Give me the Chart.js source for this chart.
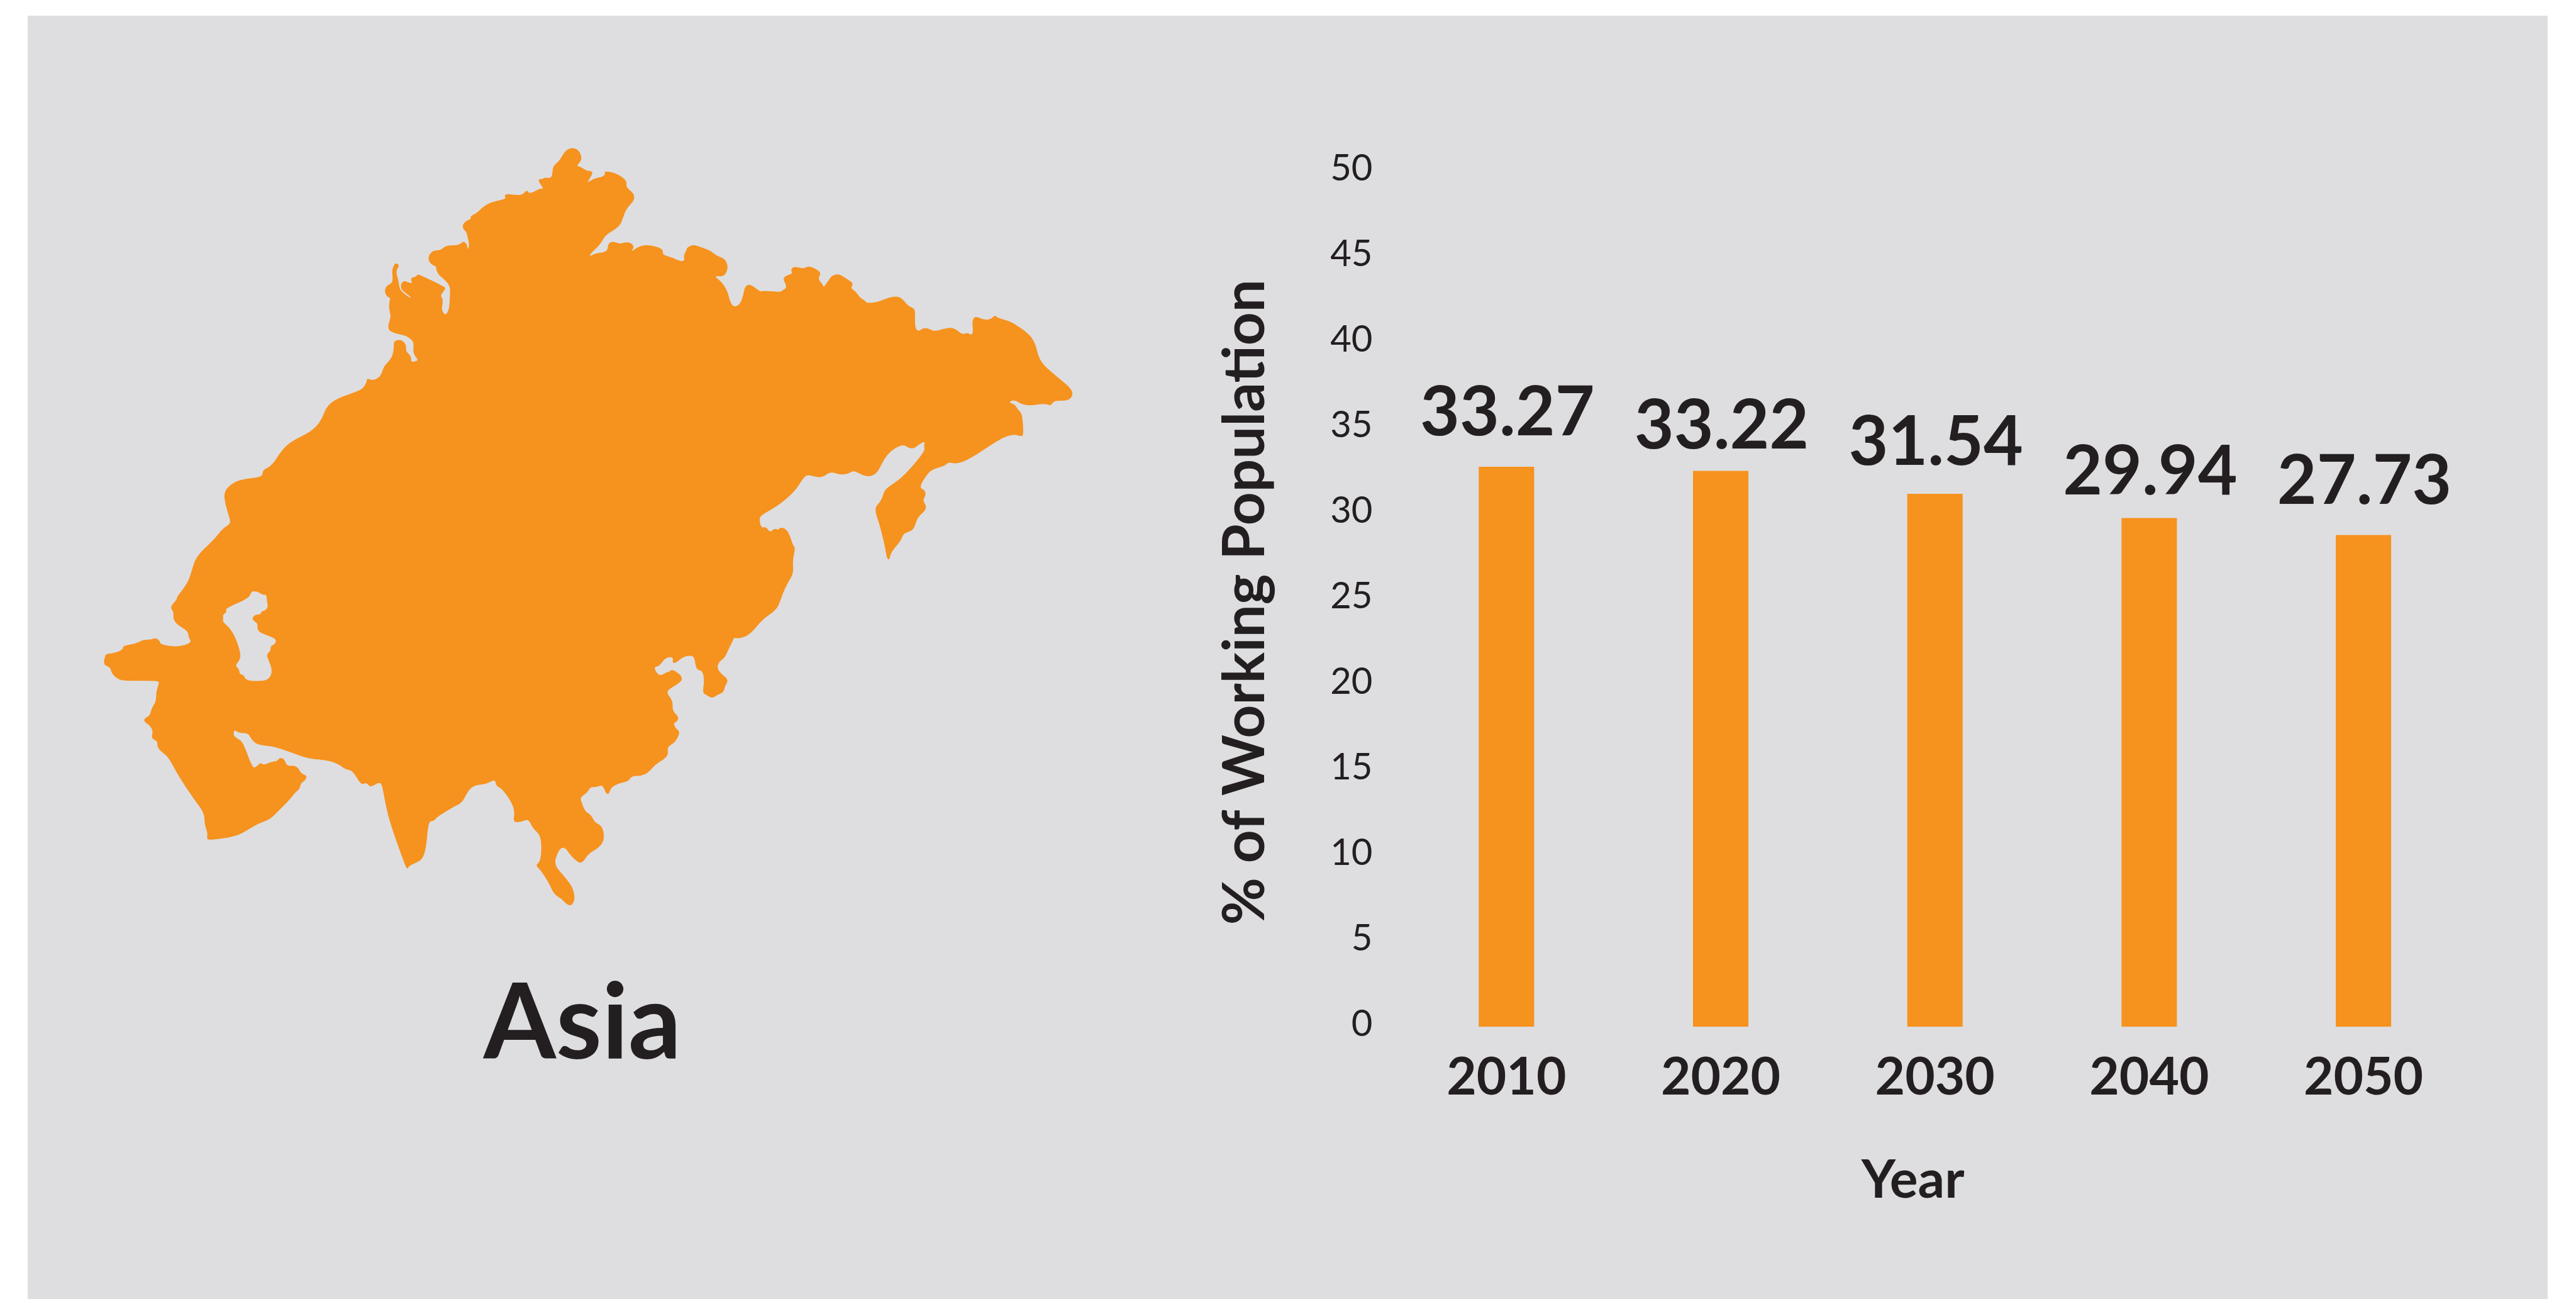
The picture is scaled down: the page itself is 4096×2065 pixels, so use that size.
<!DOCTYPE html>
<html>
<head>
<meta charset="utf-8">
<title>Asia</title>
<script src="https://cdn.jsdelivr.net/npm/chart.js@4/dist/chart.umd.js"></script>
<style>
html,body{margin:0;padding:0;background:#fff;width:4096px;height:2065px;overflow:hidden}
#panel{position:absolute;left:44px;top:25px;width:4007px;height:2040px;background:#DEDEE0}
#map{position:absolute;left:0;top:0}
#region{position:absolute;left:926px;top:1536px;transform:translateX(-50%);font:700 166px/166px Lato,sans-serif;color:#231F20;white-space:nowrap}
#chart{position:absolute;left:0;top:0}
</style>
</head>
<body>
<div id="panel"></div>
<svg id="map" width="4096" height="2065" viewBox="0 0 4376 2206"><path id="land" fill="#F6921E" fill-rule="evenodd"/></svg>
<div id="region">Asia</div>
<canvas id="chart" width="4096" height="2065"></canvas>
<script>
// ---- chart values ----
const years = ['2010', '2020', '2030', '2040', '2050'];
const barHeights = [32.72, 32.48, 31.14, 29.72, 28.73];   // bar lengths read against the axis
const printedValues = ['33.27', '33.22', '31.54', '29.94', '27.73']; // numbers printed above the bars
const yTicks = [0, 5, 10, 15, 20, 25, 30, 35, 40, 45, 50];

// ---- decorative silhouette of the continent, traced in crops of the picture ----
const northTrace = [[0,1245],[8,1225],[12,1207],[25,1214],[45,1216],[65,1208],[82,1190],[92,1160],[100,1143],[120,1122],[138,1098],[147,1060],[146,1030],[152,1016],[175,1010],[198,1020],[211,1042],[208,1068],[225,1085],[236,1100],[235,1124],[255,1122],[272,1114],[255,1095],[245,1070],[249,1030],[240,1012],[215,995],[190,985],[150,978],[125,965],[117,945],[125,915],[132,890],[122,850],[124,820],[130,797],[115,793],[102,775],[102,750],[115,733],[140,720],[141,690],[138,660],[145,635],[157,619],[172,628],[173,638],[162,650],[160,675],[170,705],[175,745],[190,770],[240,804],[225,785],[195,765],[182,745],[185,722],[200,710],[220,718],[242,725],[233,705],[240,693],[262,689],[265,680],[275,677],[408,742],[410,752],[384,785],[396,800],[396,830],[390,855],[406,885],[420,875],[430,845],[433,790],[434,750],[425,725],[400,700],[375,680],[363,655],[363,636],[340,630],[322,605],[328,575],[350,555],[385,555],[405,537],[430,529],[470,530],[490,520],[500,510],[515,518],[523,535],[519,550],[530,540],[530,515],[522,485],[518,462],[500,447],[497,425],[515,405],[542,395],[536,385],[550,374],[570,365],[600,335],[640,310],[690,300],[720,290],[711,277],[720,267],[780,275],[805,270],[818,255],[828,250],[836,265],[860,258],[890,240],[912,243],[885,205],[887,192],[907,192],[912,184],[953,188],[956,140],[965,120],[990,100],[1010,65],[1030,40],[1060,32],[1090,45],[1105,80],[1098,105],[1078,125],[1100,130],[1130,150],[1150,150],[1162,160],[1145,190],[1132,213],[1165,190],[1205,182],[1224,170],[1220,157],[1232,153],[1270,160],[1310,180],[1335,205],[1330,230],[1350,250],[1372,270],[1372,300],[1340,335],[1325,360],[1305,420],[1280,445],[1225,478],[1205,515],[1180,545],[1155,565],[1142,587],[1175,570],[1220,565],[1238,550],[1238,525],[1255,510],[1280,515],[1300,522],[1335,512],[1360,520],[1372,540],[1355,563],[1385,542],[1420,528],[1460,530],[1505,543],[1520,558],[1516,575],[1560,592]];
const eastTrace = [[42,120],[78,136],[92,132],[87,115],[97,97],[100,85],[120,75],[140,80],[165,90],[185,97],[205,115],[235,125],[247,150],[243,175],[230,190],[210,188],[200,190],[225,210],[245,240],[256,285],[270,300],[290,290],[302,260],[308,225],[325,217],[345,230],[365,245],[375,240],[435,246],[445,238],[457,233],[455,215],[445,200],[455,186],[480,180],[473,165],[485,153],[520,162],[540,150],[585,175],[570,198],[590,220],[590,230],[605,210],[620,187],[645,180],[670,195],[700,215],[688,232],[710,245],[720,265],[742,277],[745,285],[785,283],[825,265],[860,260],[880,275],[895,295],[918,305],[921,320],[920,377],[935,387],[945,377],[965,375],[990,388],[1025,377],[1055,373],[1075,385],[1090,398],[1112,392],[1120,400],[1130,393],[1127,365],[1128,345],[1138,332],[1165,345],[1190,345],[1210,328],[1216,338],[1250,347],[1280,360],[1335,400],[1355,435],[1365,480],[1385,510],[1430,550],[1475,585],[1490,610],[1480,630],[1460,637],[1425,636],[1415,645],[1408,655],[1385,646],[1340,655],[1305,650],[1285,637],[1270,635],[1258,643],[1280,650],[1290,668],[1303,680],[1308,705],[1311,760],[1303,765],[1280,758],[1245,765],[1195,795],[1120,845],[1070,865],[1040,857],[1030,870],[985,883],[965,900],[935,948],[955,958],[960,975],[948,997],[962,1015],[955,1035],[930,1055],[918,1095],[905,1107],[878,1115],[870,1140],[840,1175],[830,1195],[830,1207],[820,1208],[812,1160],[795,1090],[780,1045],[777,1020],[800,995],[810,960],[830,943],[865,920],[910,875],[957,815],[952,800],[957,783],[940,790],[915,810],[895,805],[880,795],[850,805],[820,830],[800,865],[785,895],[760,910],[730,905],[700,887],[680,900],[650,903],[620,893],[605,900],[585,913],[560,910],[535,903],[520,912],[490,960],[440,1005],[400,1030],[365,1050],[360,1065],[367,1095],[385,1090],[398,1112],[415,1095],[430,1103],[433,1092],[455,1097],[470,1120],[480,1155],[490,1165],[480,1210],[483,1255],[470,1280],[450,1315],[435,1360],[420,1390],[370,1425],[330,1475],[295,1492],[268,1490]];
const southEastTrace = [[1157,437],[1135,480],[1120,515],[1095,533],[1088,560],[1110,585],[1135,605],[1120,630],[1115,655],[1090,665],[1068,680],[1045,665],[1030,657],[1037,610],[1030,567],[1005,565],[998,520],[988,505],[950,512],[925,535],[908,537],[912,512],[880,515],[855,550],[832,553],[850,585],[870,585],[885,573],[895,573],[905,563],[925,572],[950,595],[940,615],[890,645],[887,660],[910,690],[908,730],[935,755],[925,775],[912,780],[922,802],[940,815],[920,855],[905,865],[887,878],[892,905],[875,925],[840,945],[810,980],[780,993],[745,992],[730,1015],[690,1022],[660,1040],[652,1065],[640,1065],[627,1028],[600,1038],[577,1037],[565,1060],[537,1078],[540,1095],[555,1135],[580,1150],[595,1180],[625,1195],[635,1245],[615,1280],[570,1305],[550,1338],[530,1345],[495,1310],[478,1285],[462,1280],[445,1300],[430,1350],[470,1395],[505,1440],[516,1490],[500,1517],[480,1510],[460,1487],[430,1470],[410,1425],[375,1370],[355,1353],[378,1335],[380,1235],[345,1205],[327,1165],[300,1178],[265,1180],[272,1140],[260,1100],[222,1045],[197,1033],[192,1005],[160,1025],[110,1030],[85,1050],[60,1100],[30,1115],[0,1132]];
const southWestTrace = [[1426,1180],[1385,1205],[1370,1222],[1349,1223],[1340,1330],[1325,1375],[1300,1390],[1272,1402],[1265,1415],[1258,1410],[1215,1290],[1185,1200],[1168,1110],[1160,1070],[1145,1067],[1115,1087],[1098,1065],[1078,1078],[1042,1017],[1015,1015],[980,988],[930,975],[860,970],[790,943],[720,920],[660,915],[635,893],[622,868],[595,867],[575,862],[566,853],[561,875],[575,888],[600,902],[637,1003],[650,1007],[672,985],[682,997],[715,983],[737,981],[750,965],[768,973],[778,1000],[810,998],[825,1010],[835,1030],[860,1040],[850,1060],[835,1068],[828,1095],[812,1105],[790,1135],[740,1185],[710,1215],[660,1233],[620,1258],[570,1285],[460,1300],[455,1290],[458,1270],[445,1235],[445,1190],[400,1130],[340,1040],[300,965],[275,945],[255,925],[256,900],[230,888],[238,860],[225,835],[205,825],[200,808],[225,798],[232,765],[250,740],[250,700],[262,665],[258,655],[130,657],[95,650],[70,625],[65,602],[40,592],[40,570],[45,560],[45,548],[90,543],[118,527],[115,515],[172,505],[195,491],[230,490],[248,482],[265,495],[268,510],[340,520],[395,502],[380,480],[379,455],[335,430],[318,405],[322,378],[305,360],[336,325],[332,320],[375,265],[390,225],[410,155],[480,90],[520,40],[550,23],[547,0]];
const westTrace = [[383,858],[380,835],[395,820],[415,813],[446,810],[446,798],[462,791],[478,765],[495,749],[529,733],[546,714],[555,689],[574,676],[612,663]];
const inlandSeaTrace = [[633,295],[660,295],[680,310],[695,307],[697,335],[702,355],[692,372],[675,376],[670,390],[650,388],[637,405],[645,415],[660,425],[658,450],[675,465],[725,482],[735,495],[728,510],[712,515],[712,535],[695,550],[705,575],[718,610],[712,640],[690,657],[630,657],[610,650],[603,632],[587,630],[585,608],[568,595],[590,570],[590,540],[570,480],[545,440],[518,418],[522,403],[518,390],[537,378],[528,365],[627,322]];

function place(trace, ox, oy, k) { return trace.map(p => [ox + p[0] / k, oy + p[1] / k]); }
function smooth(pts) {
  const mid = (a, b) => [(a[0] + b[0]) / 2, (a[1] + b[1]) / 2];
  const s = mid(pts[0], pts[1]);
  let d = 'M' + s[0].toFixed(1) + ' ' + s[1].toFixed(1);
  for (let i = 1; i <= pts.length; i++) {
    const c = pts[i % pts.length], m = mid(c, pts[(i + 1) % pts.length]);
    d += 'Q' + c[0].toFixed(1) + ' ' + c[1].toFixed(1) + ' ' + m[0].toFixed(1) + ' ' + m[1].toFixed(1);
  }
  return d + 'Z';
}
const coast = [].concat(
  place(northTrace, 620, 240, 3),
  place(eastTrace, 1120, 380, 1568 / 740),
  place(southEastTrace, 760, 900, 1568 / 660),
  place(southWestTrace, 160, 880, 1568 / 660),
  westTrace
);
document.getElementById('land').setAttribute('d',
  smooth(coast) + smooth(place(inlandSeaTrace, 160, 880, 1568 / 660)));

// ---- chart ----
const INK = '#231F20', ORANGE = '#F6921E', FONT = 'Lato, sans-serif';
const labelRise = [50, 35.6, 45.9, 37.4, 49.6];

const annotate = {
  id: 'annotate',
  afterLayout(chart) {
    const nudge = { x: [-35, 0], y: [8, 5] };
    for (const id of ['x', 'y']) {
      const s = chart.scales[id];
      if (s.__nudged) continue;
      s.__nudged = true;
      const orig = s.drawTitle;
      s.drawTitle = function () {
        chart.ctx.save();
        chart.ctx.translate(nudge[id][0], nudge[id][1]);
        orig.apply(this, arguments);
        chart.ctx.restore();
      };
    }
  },
  afterDatasetsDraw(chart) {
    const ctx = chart.ctx;
    ctx.save();
    ctx.fillStyle = INK;
    ctx.font = '700 108.5px ' + FONT;
    ctx.textAlign = 'center';
    ctx.textBaseline = 'alphabetic';
    chart.getDatasetMeta(0).data.forEach((bar, i) => {
      ctx.fillText(printedValues[i], bar.x + 1.5, bar.y - labelRise[i]);
    });
    ctx.restore();
  }
};

Chart.defaults.animation = false;
function start() {
  new Chart(document.getElementById('chart'), {
    type: 'bar',
    plugins: [annotate],
    data: {
      labels: years,
      datasets: [{ data: barHeights, backgroundColor: ORANGE, barThickness: 87.4, borderWidth: 0 }]
    },
    options: {
      responsive: false,
      animation: false,
      devicePixelRatio: 1,
      layout: { padding: { left: 1926, right: 167.6, top: 272.3, bottom: 0 } },
      plugins: { legend: { display: false }, tooltip: { enabled: false }, title: { display: false } },
      scales: {
        x: {
          grid: { display: false, drawTicks: false },
          border: { display: false },
          afterFit(s) { s.height = 432.8; },
          ticks: { color: INK, padding: 32, maxRotation: 0, autoSkip: false,
                   font: { family: FONT, size: 82, weight: '700' } },
          title: { display: true, text: 'Year', color: INK, padding: { top: 0, bottom: 146 },
                   font: { family: FONT, size: 84, weight: '700', lineHeight: 1 } }
        },
        y: {
          min: yTicks[0], max: yTicks[yTicks.length - 1],
          grid: { display: false, drawTicks: false },
          border: { display: false },
          afterFit(s) { s.width = 299; },
          afterBuildTicks(s) { s.ticks = yTicks.map(v => ({ value: v })); },
          ticks: { color: INK, padding: 42.5, labelOffset: -4.2,
                   font: { family: FONT, size: 58, weight: '400' } },
          title: { display: true, text: '% of Working Population', color: INK, padding: 0,
                   font: { family: FONT, size: 92.3, weight: '700', lineHeight: 1 } }
        }
      }
    }
  });
}
(document.fonts && document.fonts.load
  ? Promise.all(['400 58px Lato', '700 82px Lato'].map(f => document.fonts.load(f))).catch(() => {})
  : Promise.resolve()).then(start);
</script>
</body>
</html>
